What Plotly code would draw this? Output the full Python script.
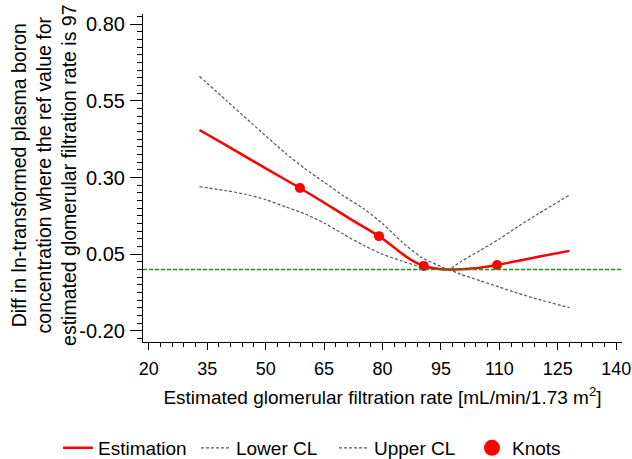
import plotly.graph_objects as go

# Data
est_x = [33, 40, 50, 58.8, 65, 72, 79.1, 82, 85, 88, 90.6, 93, 95, 97, 100, 105, 109.4, 115, 120, 128]
est_y = [0.455, 0.404, 0.330, 0.266, 0.218, 0.163, 0.109, 0.082, 0.052, 0.027, 0.012, 0.005, 0.001, 0.0, 0.001, 0.006, 0.015, 0.029, 0.042, 0.061]

upper_x = [33, 40, 47, 55, 60, 65, 70, 75, 80, 85, 90, 95, 97, 100, 105, 110, 115, 120, 128]
upper_y = [0.63, 0.55, 0.47, 0.38, 0.33, 0.285, 0.24, 0.20, 0.15, 0.09, 0.04, 0.01, 0.0, 0.025, 0.062, 0.10, 0.142, 0.182, 0.243]

lower_x = [33, 40, 45, 50, 55, 60, 65, 70, 75, 80, 85, 90, 95, 97, 100, 105, 110, 115, 120, 128]
lower_y = [0.27, 0.257, 0.245, 0.228, 0.205, 0.182, 0.152, 0.115, 0.08, 0.05, 0.028, 0.008, 0.001, 0.0, -0.015, -0.036, -0.057, -0.078, -0.097, -0.124]

knots_x = [58.8, 79.1, 90.6, 109.4]
knots_y = [0.266, 0.109, 0.012, 0.015]

ref_y = 0.0

x_ticks = [20, 35, 50, 65, 80, 95, 110, 125, 140]
y_ticks = [-0.20, 0.05, 0.30, 0.55, 0.80]
y_tick_labels = ["-0.20", "0.05", "0.30", "0.55", "0.80"]

FONT = "Liberation Sans, Arial, Helvetica, sans-serif"
CL_COLOR = "#555555"

fig = go.Figure()

fig.add_trace(go.Scatter(x=lower_x, y=lower_y, mode="lines", name="Lower CL", legendrank=2,
                         line=dict(color=CL_COLOR, width=1.2, dash="3px,2px", shape="spline", smoothing=0.6)))
fig.add_trace(go.Scatter(x=upper_x, y=upper_y, mode="lines", name="Upper CL", legendrank=3,
                         line=dict(color=CL_COLOR, width=1.2, dash="3px,2px", shape="spline", smoothing=0.6)))

fig.add_hline(y=ref_y, line=dict(color="#0a9e0a", width=1.5, dash="4px,2px"))

fig.add_trace(go.Scatter(x=est_x, y=est_y, mode="lines", name="Estimation", legendrank=1,
                         line=dict(color="#ff0000", width=2.5, shape="spline", smoothing=0.6)))
fig.add_trace(go.Scatter(x=knots_x, y=knots_y, mode="markers", name="Knots", showlegend=False,
                         marker=dict(color="#ff0000", size=10)))
# legend entry for knots (larger symbol as in reference)
fig.add_trace(go.Scatter(x=[None], y=[None], mode="markers", name="Knots", legendrank=4,
                         marker=dict(color="#ff0000", size=20)))

fig.add_annotation(
    text="Diff in ln-transformed plasma boron<br>concentration where the ref value for<br>estimated glomerular filtration rate is 97",
    xref="paper", yref="paper", x=-0.207, y=0.509, xanchor="center", yanchor="middle",
    textangle=-90, showarrow=False, font=dict(size=19.5, family=FONT, color="black"),
)

fig.update_layout(
    width=632, height=459,
    margin=dict(l=143, r=10, t=14, b=117, autoexpand=False),
    paper_bgcolor="white", plot_bgcolor="white",
    font=dict(family=FONT, color="black", size=19),
    showlegend=True,
    legend=dict(orientation="h", xref="paper", yref="paper",
                x=-0.1775, y=-0.323, xanchor="left", yanchor="middle",
                font=dict(size=19), entrywidth=93, entrywidthmode="pixels",
                itemsizing="trace"),
    xaxis=dict(range=[18.5, 141.5], tickvals=x_ticks, ticks="outside", ticklen=7,
               tickcolor="black", showline=True, linecolor="black", linewidth=1.2,
               showgrid=False, zeroline=False, tickfont=dict(size=18), ticklabelstandoff=3,
               minor=dict(dtick=3, tick0=20, ticks="outside", ticklen=4, tickcolor="black", showgrid=False),
               title=dict(text="Estimated glomerular filtration rate [mL/min/1.73 m<sup>2</sup>]",
                          font=dict(size=19), standoff=12)),
    yaxis=dict(range=[-0.236, 0.833], tickvals=y_ticks, ticktext=y_tick_labels, ticks="outside", ticklen=12,
               tickcolor="black", showline=True, linecolor="black", linewidth=1.2,
               showgrid=False, zeroline=False, tickfont=dict(size=20), ticklabelstandoff=1,
               minor=dict(dtick=0.025, tick0=0.80, ticks="outside", ticklen=5, tickcolor="black", showgrid=False)),
)

fig.write_html("out.html", config={"displayModeBar": False},
               post_script="document.body.style.margin='0';document.body.style.padding='0';")
